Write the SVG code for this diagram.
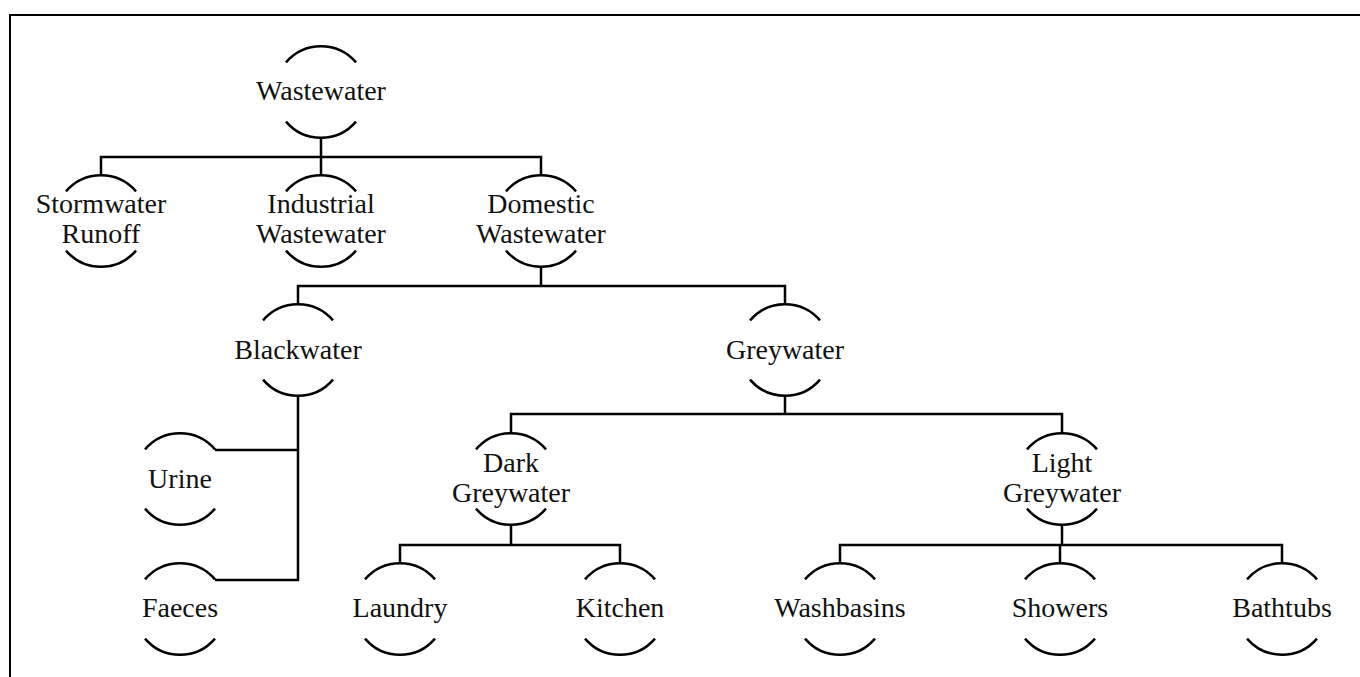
<svg xmlns="http://www.w3.org/2000/svg" xmlns:xlink="http://www.w3.org/1999/xlink" width="1360" height="677" viewBox="0 0 1360 677">
<style>
.ring{fill:none;stroke:#000;stroke-width:2.5}
.lbl{font-family:"Liberation Serif","Times New Roman",serif;font-size:28px;fill:#111;text-anchor:middle}
.conn{fill:none;stroke:#000;stroke-width:2.5}
.frame{fill:none;stroke:#000;stroke-width:2}
</style>
<defs>
<path id="ring" class="ring" d="M -35 -29.6 A 46 46 0 0 1 35 -29.6 M -35 29.6 A 46 46 0 0 0 35 29.6"/>
</defs>
<rect width="1360" height="677" fill="#fff"/>
<rect class="frame" x="10" y="15" width="1400" height="700"/>
<g id="connectors" class="conn">
<path d="M321 138 V175 M101 175 V157 H541 V175"/>
<path d="M541 267 V286 M298 304 V286 H785 V304"/>
<path d="M298 396 V580 H215 M298 450 H215"/>
<path d="M785 396 V414 M511 433 V414 H1062 V433"/>
<path d="M511 525 V545 M400 563 V545 H620 V563"/>
<path d="M1062 525 V545 M840 563 V545 H1282 V563 M1060 545 V563"/>
</g>
<g id="n-wastewater"><use xlink:href="#ring" x="321" y="92"/><text class="lbl" x="321" y="100">Wastewater</text></g>
<g id="n-stormwater"><use xlink:href="#ring" x="101" y="221"/><text class="lbl" x="101" y="213">Stormwater</text><text class="lbl" x="101" y="243">Runoff</text></g>
<g id="n-industrial"><use xlink:href="#ring" x="321" y="221"/><text class="lbl" x="321" y="213">Industrial</text><text class="lbl" x="321" y="243">Wastewater</text></g>
<g id="n-domestic"><use xlink:href="#ring" x="541" y="221"/><text class="lbl" x="541" y="213">Domestic</text><text class="lbl" x="541" y="243">Wastewater</text></g>
<g id="n-blackwater"><use xlink:href="#ring" x="298" y="350"/><text class="lbl" x="298" y="359">Blackwater</text></g>
<g id="n-greywater"><use xlink:href="#ring" x="785" y="350"/><text class="lbl" x="785" y="359">Greywater</text></g>
<g id="n-urine"><use xlink:href="#ring" x="180" y="479"/><text class="lbl" x="180" y="488">Urine</text></g>
<g id="n-faeces"><use xlink:href="#ring" x="180" y="609"/><text class="lbl" x="180" y="617">Faeces</text></g>
<g id="n-dark"><use xlink:href="#ring" x="511" y="479"/><text class="lbl" x="511" y="472">Dark</text><text class="lbl" x="511" y="502">Greywater</text></g>
<g id="n-light"><use xlink:href="#ring" x="1062" y="479"/><text class="lbl" x="1062" y="472">Light</text><text class="lbl" x="1062" y="502">Greywater</text></g>
<g id="n-laundry"><use xlink:href="#ring" x="400" y="609"/><text class="lbl" x="400" y="617">Laundry</text></g>
<g id="n-kitchen"><use xlink:href="#ring" x="620" y="609"/><text class="lbl" x="620" y="617">Kitchen</text></g>
<g id="n-washbasins"><use xlink:href="#ring" x="840" y="609"/><text class="lbl" x="840" y="617">Washbasins</text></g>
<g id="n-showers"><use xlink:href="#ring" x="1060" y="609"/><text class="lbl" x="1060" y="617">Showers</text></g>
<g id="n-bathtubs"><use xlink:href="#ring" x="1282" y="609"/><text class="lbl" x="1282" y="617">Bathtubs</text></g>
</svg>
